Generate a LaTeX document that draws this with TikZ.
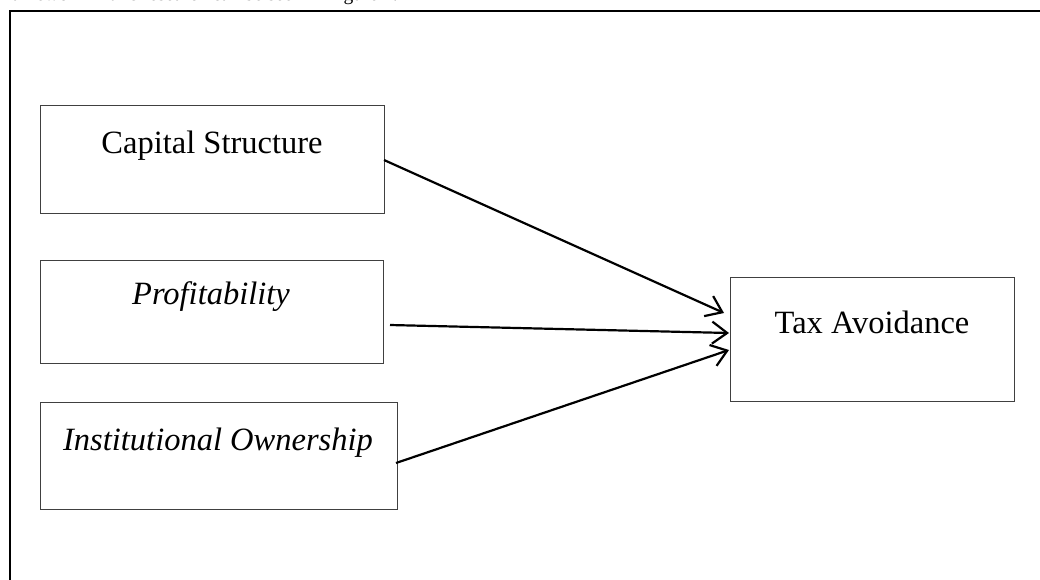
\documentclass[tikz,border=0pt]{standalone}
\usepackage{fontspec}
\setmainfont{Liberation Serif}
\usetikzlibrary{arrows.meta}
\tikzset{
  varbox/.style={draw=black!75, line width=0.9pt, fill=none},
  lbl/.style={font=\fontsize{32.5}{38}\selectfont, inner sep=0pt, anchor=base},
  link/.style={line width=2.2pt, -{Straight Barb[length=15pt,width=22pt,line width=2.2pt]}},
  frame/.style={line width=2pt}
}
\begin{document}
\begin{tikzpicture}[x=1pt,y=-1pt]
\useasboundingbox (0,0) rectangle (1040,579);
\clip (0,0) rectangle (1040,579);
% partially visible line of text above the figure
\node[font=\fontsize{19.5}{22}\selectfont, inner sep=0pt, anchor=base west] (cap) at (-1,0.5) {framework in this research can be seen in Figure 2.};
% outer frame (only top and left edges visible)
\coordinate (fa) at (10,600);
\coordinate (fb) at (10,11);
\coordinate (fc) at (1060,11);
\draw[frame] (fa) -- (fb) -- (fc);
% boxes
\draw[varbox] (40,105) rectangle (384,213);
\node[lbl] (cs) at (212,153) {Capital Structure};
\coordinate (csR) at (384,160);
\draw[varbox] (40,260) rectangle (383,363);
\node[lbl] (pr) at (211,304) {\itshape Profitability};
\coordinate (prR) at (390,325);
\draw[varbox] (40,402) rectangle (397,509);
\node[lbl] (io) at (218,450) {\itshape Institutional Ownership};
\coordinate (ioR) at (396,463);
\draw[varbox] (730,277) rectangle (1014,401);
\node[lbl] (ta) at (872,333) {Tax Avoidance};
\coordinate (t1) at (724,313);
\coordinate (t2) at (729,333);
\coordinate (t3) at (729,350);
% connectors
\draw[link] (csR) -- (t1);
\draw[link] (prR) -- (t2);
\draw[link] (ioR) -- (t3);
\end{tikzpicture}
\end{document}
